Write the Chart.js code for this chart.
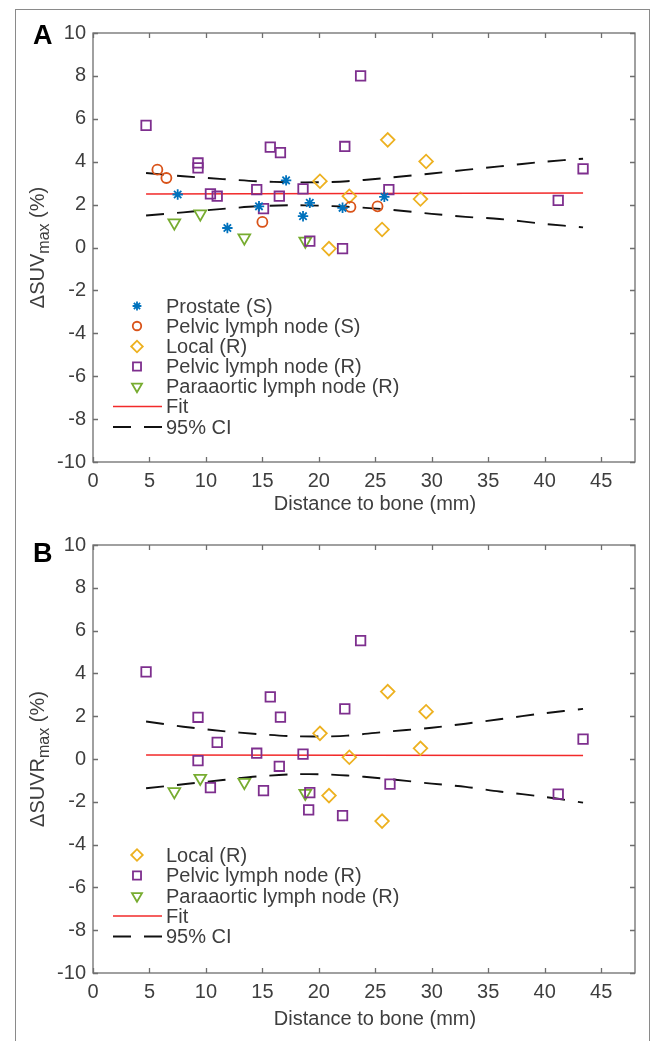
<!DOCTYPE html>
<html>
<head>
<meta charset="utf-8">
<script src="https://cdn.jsdelivr.net/npm/chart.js"></script>
<style>
  body { margin: 0; background: #fff; width: 651px; height: 1041px; position: relative; overflow: hidden; }
  #frame { position: absolute; left: 15px; top: 9px; width: 633px; height: 1040px; border: 1px solid #8a8a8a; }
  canvas { position: absolute; left: 0; }
  #chartA { top: 0; }
  #chartB { top: 520px; }
</style>
</head>
<body>
<div id="frame"></div>
<canvas id="chartA" width="651" height="520"></canvas>
<canvas id="chartB" width="651" height="521"></canvas>
<script>
// ---- tick labels ----
const xTicks = [0, 5, 10, 15, 20, 25, 30, 35, 40, 45];
const yTicks = [-10, -8, -6, -4, -2, 0, 2, 4, 6, 8, 10];

// ---- panel A : dSUVmax ----
const prostateX = [7.5, 11.9, 14.7, 17.1, 18.6, 19.2, 22.1, 25.8];
const prostateY = [2.47, 0.91, 1.92, 3.13, 1.46, 2.08, 1.85, 2.36];

const pelvicSX = [5.7, 6.5, 15.0, 22.8, 25.2];
const pelvicSY = [3.63, 3.24, 1.19, 1.89, 1.92];

const localX = [20.1, 20.9, 22.7, 25.6, 26.1, 29.0, 29.5];
const localYA = [3.09, -0.05, 2.39, 0.84, 5.02, 2.26, 4.01];

const pelvicRXA = [4.7, 9.3, 9.3, 10.4, 11.0, 14.5, 15.1, 15.7, 16.5, 16.6, 18.6, 19.2, 22.1, 22.3, 23.7, 26.2, 41.2, 43.4];
const pelvicRYA = [5.69, 3.94, 3.71, 2.5, 2.39, 2.7, 1.81, 4.68, 2.39, 4.42, 2.73, 0.3, -0.05, 4.71, 8.0, 2.7, 2.2, 3.67];

const paraX = [7.2, 9.5, 13.4, 18.8];
const paraYA = [1.15, 1.57, 0.45, 0.3];

// fit and 95% CI
const fitX = [4.7, 43.4];
const fitYA = [2.5, 2.54];
const ciX = [4.7, 8, 11.5, 14.5, 17.5, 20, 22.5, 25.5, 30, 33, 36, 40, 43.4];
const ciUpA = [3.47, 3.32, 3.19, 3.09, 3.04, 3.04, 3.09, 3.22, 3.45, 3.62, 3.78, 4.0, 4.14];
const ciLoA = [1.49, 1.64, 1.80, 1.92, 1.97, 1.95, 1.90, 1.80, 1.57, 1.43, 1.33, 1.10, 0.94];

// ---- panel B : dSUVRmax ----
const localYB = [1.2, -1.71, 0.08, -2.9, 3.15, 0.5, 2.21];

const pelvicRXB = [4.7, 9.3, 9.3, 10.4, 11.0, 14.5, 15.1, 15.7, 16.5, 16.6, 18.6, 19.1, 19.2, 22.1, 22.3, 23.7, 26.3, 41.2, 43.4];
const pelvicRYB = [4.07, 1.95, -0.08, -1.34, 0.78, 0.27, -1.48, 2.9, -0.34, 1.96, 0.23, -2.38, -1.57, -2.65, 2.34, 5.53, -1.17, -1.64, 0.93];

const paraYB = [-1.52, -0.9, -1.09, -1.6];

const fitYB = [0.19, 0.16];
const ciUpB = [1.75, 1.51, 1.30, 1.17, 1.07, 1.05, 1.09, 1.25, 1.46, 1.65, 1.86, 2.14, 2.34];
const ciLoB = [-1.37, -1.18, -0.98, -0.82, -0.72, -0.71, -0.77, -0.90, -1.15, -1.30, -1.52, -1.77, -2.04];

// colours (MATLAB default order)
const BLUE = '#0072BD', ORANGE = '#D95319', YELLOW = '#EDB120', PURPLE = '#7E2F8E', GREEN = '#77AC30';
const TEXT = '#3e3e3e', AXIS = '#6e6e6e';
const FONT = '"Liberation Sans", Arial, sans-serif';

Chart.defaults.font.family = FONT;
Chart.defaults.color = TEXT;

const pts = (xs, ys) => xs.map((x, i) => ({ x: x, y: ys[i] }));

function markers(label, xs, ys, color, style, radius, rot) {
    return {
        label: label, data: pts(xs, ys), showLine: false,
        pointStyle: style, pointRadius: radius, pointHoverRadius: radius, pointRotation: rot || 0,
        pointBorderColor: color, pointBackgroundColor: 'rgba(0,0,0,0)', pointBorderWidth: 1.8
    };
}

function curve(label, xs, ys, color, dash, width) {
    return {
        label: label, data: pts(xs, ys), showLine: true, fill: false,
        borderColor: color, borderWidth: width, borderDash: dash || [],
        pointRadius: 0, tension: 0.3
    };
}

// draws the box, inward ticks, titles, panel letter and the legend
const decor = {
    id: 'decor',
    afterDraw(chart, args, o) {
        const { ctx, chartArea: a, scales } = chart;
        const x = scales.x, y = scales.y;
        ctx.save();

        // axes box + inward ticks
        ctx.strokeStyle = AXIS;
        ctx.lineWidth = 1.3;
        ctx.strokeRect(a.left, a.top, a.right - a.left, a.bottom - a.top);
        ctx.beginPath();
        x.ticks.forEach(t => {
            const p = Math.round(x.getPixelForValue(t.value)) + 0.5;
            ctx.moveTo(p, a.bottom); ctx.lineTo(p, a.bottom - 5);
            ctx.moveTo(p, a.top); ctx.lineTo(p, a.top + 5);
        });
        y.ticks.forEach(t => {
            const p = Math.round(y.getPixelForValue(t.value)) + 0.5;
            ctx.moveTo(a.left, p); ctx.lineTo(a.left + 5, p);
            ctx.moveTo(a.right, p); ctx.lineTo(a.right - 5, p);
        });
        ctx.stroke();

        // panel letter
        ctx.fillStyle = '#000';
        ctx.font = 'bold 27px ' + FONT;
        ctx.textBaseline = 'alphabetic';
        ctx.textAlign = 'left';
        ctx.fillText(o.letter, 33, o.letterY);

        // x title
        ctx.fillStyle = TEXT;
        ctx.font = '20px ' + FONT;
        ctx.textAlign = 'center';
        ctx.textBaseline = 'middle';
        ctx.fillText('Distance to bone (mm)', 375, o.xTitleY);

        // y title with subscript
        const midY = (a.top + a.bottom) / 2;
        ctx.translate(44, midY);
        ctx.rotate(-Math.PI / 2);
        ctx.textAlign = 'left';
        ctx.textBaseline = 'alphabetic';
        const big = '20px ' + FONT, small = '16px ' + FONT;
        ctx.font = big;
        const w1 = ctx.measureText(o.yMain).width;
        const w3 = ctx.measureText(' (%)').width;
        ctx.font = small;
        const w2 = ctx.measureText('max').width;
        let s = -(w1 + w2 + w3) / 2;
        ctx.font = big; ctx.fillText(o.yMain, s, 0); s += w1;
        ctx.font = small; ctx.fillText('max', s, 5); s += w2;
        ctx.font = big; ctx.fillText(' (%)', s, 0);
        ctx.setTransform(1, 0, 0, 1, 0, 0);

        // legend
        ctx.font = '20px ' + FONT;
        ctx.textAlign = 'left';
        ctx.textBaseline = 'middle';
        o.legend.forEach(row => {
            const ds = chart.data.datasets[row.ds];
            if (ds.showLine) {
                ctx.strokeStyle = ds.borderColor;
                ctx.lineWidth = ds.borderWidth;
                ctx.setLineDash(ds.borderDash);
                ctx.beginPath();
                ctx.moveTo(113, row.y); ctx.lineTo(162, row.y);
                ctx.stroke();
                ctx.setLineDash([]);
            } else {
                ctx.strokeStyle = ds.pointBorderColor;
                ctx.fillStyle = 'rgba(0,0,0,0)';
                ctx.lineWidth = ds.pointBorderWidth;
                Chart.helpers.drawPoint(ctx, {
                    pointStyle: ds.pointStyle, rotation: ds.pointRotation,
                    radius: ds.pointRadius * 0.85, borderWidth: ds.pointBorderWidth
                }, 137, row.y);
            }
            ctx.fillStyle = TEXT;
            ctx.fillText(ds.label, 166, row.y + 1);
        });
        ctx.restore();
    }
};

function makeChart(id, datasets, opts) {
    return new Chart(document.getElementById(id), {
        type: 'scatter',
        data: { datasets: datasets },
        options: {
            responsive: false,
            animation: false,
            devicePixelRatio: 1,
            layout: { padding: { top: opts.top, right: 16, left: 0, bottom: 0 } },
            plugins: { legend: { display: false }, tooltip: { enabled: false }, decor: opts },
            scales: {
                x: {
                    type: 'linear', min: 0, max: 48,
                    grid: { display: false, drawTicks: false }, border: { display: false },
                    afterBuildTicks: sc => { sc.ticks = xTicks.map(v => ({ value: v })); },
                    afterFit: sc => { sc.height = opts.xHeight; },
                    ticks: { font: { size: 20 }, color: TEXT, padding: 7, maxRotation: 0 }
                },
                y: {
                    type: 'linear', min: -10, max: 10,
                    grid: { display: false, drawTicks: false }, border: { display: false },
                    afterBuildTicks: sc => { sc.ticks = yTicks.map(v => ({ value: v })); },
                    afterFit: sc => { sc.width = 93; },
                    ticks: { font: { size: 20 }, color: TEXT, padding: 7 }
                }
            }
        },
        plugins: [decor]
    });
}

makeChart('chartA', [
    markers('Prostate (S)', prostateX, prostateY, BLUE, 'star', 5.2),
    markers('Pelvic lymph node (S)', pelvicSX, pelvicSY, ORANGE, 'circle', 5),
    markers('Local (R)', localX, localYA, YELLOW, 'rectRot', 6.8),
    markers('Pelvic lymph node (R)', pelvicRXA, pelvicRYA, PURPLE, 'rect', 6.7),
    markers('Paraaortic lymph node (R)', paraX, paraYA, GREEN, 'triangle', 6.8, 180),
    curve('Fit', fitX, fitYA, '#f22a2a', [], 1.5),
    curve('95% CI', ciX, ciUpA, '#111', [18, 13], 1.9),
    curve('95% CI', ciX, ciLoA, '#111', [18, 13], 1.9)
], {
    top: 33, xHeight: 58, letter: 'A', letterY: 44, xTitleY: 504, yMain: '\u0394SUV',
    legend: [
        { ds: 0, y: 306 }, { ds: 1, y: 326 }, { ds: 2, y: 346.5 }, { ds: 3, y: 366.5 },
        { ds: 4, y: 386.5 }, { ds: 5, y: 406.5 }, { ds: 6, y: 427 }
    ]
});

makeChart('chartB', [
    markers('Local (R)', localX, localYB, YELLOW, 'rectRot', 6.8),
    markers('Pelvic lymph node (R)', pelvicRXB, pelvicRYB, PURPLE, 'rect', 6.7),
    markers('Paraaortic lymph node (R)', paraX, paraYB, GREEN, 'triangle', 6.8, 180),
    curve('Fit', fitX, fitYB, '#f22a2a', [], 1.5),
    curve('95% CI', ciX, ciUpB, '#111', [18, 13], 1.9),
    curve('95% CI', ciX, ciLoB, '#111', [18, 13], 1.9)
], {
    top: 25, xHeight: 68, letter: 'B', letterY: 42, xTitleY: 499, yMain: '\u0394SUVR',
    legend: [
        { ds: 0, y: 335 }, { ds: 1, y: 355.5 }, { ds: 2, y: 376 }, { ds: 3, y: 396 }, { ds: 4, y: 416.5 }
    ]
});
</script>
</body>
</html>
